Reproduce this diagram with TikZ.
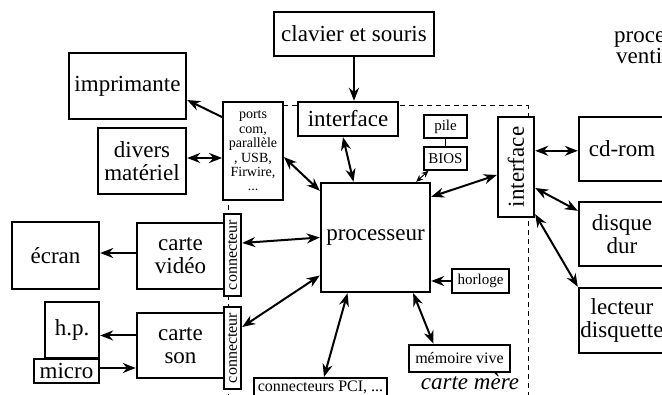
\documentclass[tikz,border=0pt]{standalone}
\usepackage{fontspec}
\setmainfont{Liberation Serif}
\usepackage{tikz}
\usetikzlibrary{arrows.meta}
\newcommand{\grand}{\fontsize{23}{23}\selectfont}
\newcommand{\moyen}{\fontsize{16}{17}\selectfont}
\newcommand{\petit}{\fontsize{15}{16}\selectfont}
\newcommand{\mini}{\fontsize{14}{14.4}\selectfont}
\tikzset{boite/.style = {draw, line width=2.4pt, fill=white, inner sep=0pt,
                         align=center, font=\grand}}
\tikzset{pboite/.style = {boite, line width=1.4pt, font=\petit}}
\tikzset{fl/.style = {->, line width=2pt}}
\tikzset{dfl/.style = {<->, line width=2pt}}

\begin{document}
\begin{tikzpicture}[x=1pt, y=1pt, >={Stealth[length=13pt, width=10pt]}]
    \clip (0, 0) rectangle (662, -395);
    \fill [white] (0, 0) rectangle (662, -395);

    % carte mere
    \draw [dashed, line width=1pt, dash pattern=on 5pt off 4pt] (228, -106) rectangle (528, -430);

    \node [boite, minimum width=160, minimum height=44] (clavier) at (354, -34) {clavier et souris};
    \node [boite, minimum width=100, minimum height=34] (ifaceT) at (348, -119) {interface};
    \node [boite, minimum width=117, minimum height=66] (imprim) at (127.5, -86) {imprimante};
    \node [boite, minimum width=88, minimum height=66] (divers) at (142, -161) {divers\\matériel};
    \node [boite, line width=1.8pt, font=\mini, minimum width=60, minimum height=98] (ports) at (253, -151)
        {ports\\com,\\parallèle\\, USB,\\Firwire,\\...};
    \node [boite, minimum width=109, minimum height=109] (proc) at (375.5, -237.5) {processeur};
    \node [pboite, minimum width=43, minimum height=23] (pile) at (445.5, -126.5) {pile};
    \node [pboite, minimum width=43, minimum height=23] (bios) at (445.5, -158.5) {BIOS};
    \node [boite, minimum width=36, minimum height=100] (ifaceR) at (516, -167) {\rotatebox{90}{interface}};
    \node [boite, minimum width=86, minimum height=64] (cdrom) at (622, -149) {cd-rom};
    \node [boite, minimum width=86, minimum height=64] (disque) at (622, -234) {disque\\dur};
    \node [boite, minimum width=86, minimum height=65] (lecteur) at (622, -320.5) {lecteur\\disquette};
    \node [pboite, minimum width=57, minimum height=24] (horloge) at (480.5, -281) {horloge};
    \node [boite, font=\moyen, minimum width=101, minimum height=27] (memoire) at (459.5, -358.5) {mémoire vive};
    \node [boite, font=\moyen, minimum width=133, text height=13pt, text depth=16pt, anchor=north] (pci) at (320.5, -377) {connecteurs PCI, ...};
    \node [boite, minimum width=87, minimum height=67] (ecran) at (55.5, -255.5) {écran};
    \node [boite, minimum width=87, minimum height=66] (video) at (180.5, -256) {carte\\vidéo};
    \node [boite, font=\moyen, minimum width=17, minimum height=82] (convid) at (232.5, -255) {\rotatebox{90}{connecteur}};
    \node [boite, minimum width=87, minimum height=65] (son) at (180.5, -345.5) {carte\\son};
    \node [boite, font=\moyen, minimum width=17, minimum height=82] (conson) at (232.5, -348) {\rotatebox{90}{connecteur}};
    \node [boite, minimum width=54, minimum height=56] (hp) at (72, -330) {h.p.};
    \node [boite, minimum width=65, minimum height=24] (micro) at (66.5, -371) {micro};

    \node [anchor=base, font=\grand\itshape] (cartem) at (470, -390) {carte mère};
    \node [anchor=base west, font=\grand, inner sep=0pt] (txtA) at (614, -43) {proce};
    \node [anchor=base west, font=\grand, inner sep=0pt] (txtB) at (616, -64) {venti};

    % liaisons
    \draw [fl] (clavier.south) -- (clavier.south |- ifaceT.north);
    \draw [fl] ([yshift=-16pt]ports.north west) -- ([yshift=-14pt]imprim.east);
    \draw [dfl] ([yshift=3pt]divers.east) -- ([yshift=3pt]divers.east -| ports.west);
    \draw [dfl] ([yshift=-6pt]ports.east) -- ([yshift=-9pt]proc.north west);
    \draw [dfl] ([xshift=-5pt]ifaceT.south) -- ([xshift=-22pt]proc.north);
    \draw (pile.south) -- (bios.north);
    \draw [<->, line width=1pt, >={Stealth[length=7pt, width=6pt]}] ([xshift=-17pt]bios.south) -- ([xshift=-15pt]proc.north east);
    \draw [dfl] ([yshift=-15pt]proc.north east) -- ([yshift=-8pt]ifaceR.west);
    \draw [dfl] ([yshift=-35pt]ifaceR.north east) -- ([yshift=-35pt]ifaceR.north east -| cdrom.west);
    \draw [dfl] ([yshift=-21pt]ifaceR.east) -- ([yshift=-10pt]disque.north west);
    \draw [dfl] ([yshift=4pt]ifaceR.south east) -- (lecteur.north west);
    \draw [fl] (horloge.west) -- (horloge.west -| proc.east);
    \draw [dfl] ([xshift=-18pt]proc.south east) -- ([xshift=-26pt]memoire.north);
    \draw [dfl] ([xshift=-28pt]proc.south) -- ([xshift=3.5pt]pci.north);
    \draw [fl] ([yshift=3pt]video.west) -- ([yshift=3pt]video.west -| ecran.east);
    \draw [dfl] ([yshift=12pt]convid.east) -- (proc.west);
    \draw [fl] ([yshift=10pt]son.west) -- ([yshift=10pt]son.west -| hp.east);
    \draw [fl] ([yshift=3pt]micro.east) -- ([yshift=3pt]micro.east -| son.west);
    \draw [dfl] ([yshift=21pt]conson.east) -- ([yshift=-38pt]proc.west);
  \end{tikzpicture}
\end{document}
